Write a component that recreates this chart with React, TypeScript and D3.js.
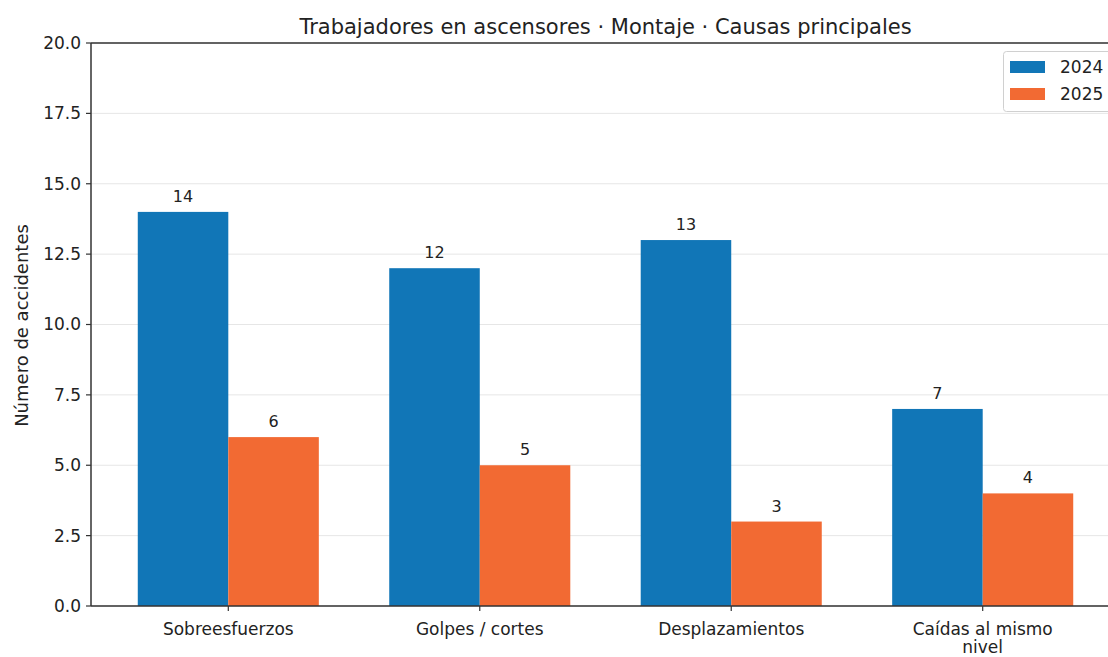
import React from "react";
import * as d3 from "d3";

const categories: string[][] = [
  ["Sobreesfuerzos"],
  ["Golpes / cortes"],
  ["Desplazamientos"],
  ["Caídas al mismo", "nivel"],
];
const values2024: number[] = [14, 12, 13, 7];
const values2025: number[] = [6, 5, 3, 4];
const seriesNames: string[] = ["2024", "2025"];
const yTicks: number[] = [0, 2.5, 5, 7.5, 10, 12.5, 15, 17.5, 20];
const title = "Trabajadores en ascensores · Montaje · Causas principales";
const yLabel = "Número de accidentes";

const W = 1108;
const H = 657;
const colors = ["#1176b7", "#f26a33"];
const font = "'DejaVu Sans', sans-serif";

export default function App() {
  const left = 91;
  const right = 1120;
  const top = 43;
  const bottom = 606;
  const barW = 0.36;
  const x = d3.scaleLinear().domain([-0.546, 3.546]).range([left, right]);
  const y = d3.scaleLinear().domain([0, 20]).range([bottom, top]);
  const series = [values2024, values2025];

  return (
    <svg
      width={W}
      height={H}
      style={{ position: "absolute", left: 0, top: 0, background: "#fff" }}
      fontFamily={font}
    >
      <rect x={0} y={0} width={W} height={H} fill="#fff" />
      {/* grid */}
      {yTicks.map((t) => (
        <line key={"g" + t} x1={left} x2={right} y1={y(t)} y2={y(t)} stroke="#e6e6e6" strokeWidth={1} />
      ))}
      {/* bars */}
      {series.map((vals, si) =>
        vals.map((v, i) => {
          const x0 = si === 0 ? x(i - barW) : x(i);
          const x1 = si === 0 ? x(i) : x(i + barW);
          return (
            <g key={`b${si}-${i}`}>
              <rect x={x0} y={y(v)} width={x1 - x0} height={y(0) - y(v)} fill={colors[si]} />
              <text
                x={(x0 + x1) / 2}
                y={y(v) - 10}
                textAnchor="middle"
                fontSize={16}
                fill="#222"
              >
                {v}
              </text>
            </g>
          );
        })
      )}
      {/* spines */}
      <line x1={left} x2={left} y1={top} y2={bottom} stroke="#333" strokeWidth={1.5} />
      <line x1={left} x2={right} y1={bottom} y2={bottom} stroke="#333" strokeWidth={1.5} />
      <line x1={left} x2={right} y1={top} y2={top} stroke="#333" strokeWidth={1.5} />
      {/* y ticks */}
      {yTicks.map((t) => (
        <g key={"t" + t}>
          <line x1={left - 5} x2={left} y1={y(t)} y2={y(t)} stroke="#333" strokeWidth={1.2} />
          <text x={left - 10} y={y(t)} dy="0.35em" textAnchor="end" fontSize={17} fill="#222">
            {t.toFixed(1)}
          </text>
        </g>
      ))}
      {/* x ticks */}
      {categories.map((lines, i) => (
        <g key={"x" + i}>
          <line x1={x(i)} x2={x(i)} y1={bottom} y2={bottom + 5} stroke="#333" strokeWidth={1.2} />
          {lines.map((ln, li) => (
            <text
              key={li}
              x={x(i)}
              y={bottom + 29 + li * 18}
              textAnchor="middle"
              fontSize={17}
              fill="#222"
            >
              {ln}
            </text>
          ))}
        </g>
      ))}
      {/* y label */}
      <text
        transform={`translate(28,${(top + bottom) / 2 + 1}) rotate(-90)`}
        textAnchor="middle"
        fontSize={18}
        fill="#222"
      >
        {yLabel}
      </text>
      {/* title */}
      <text x={(left + right) / 2} y={34} textAnchor="middle" fontSize={21} fill="#222">
        {title}
      </text>
      {/* legend */}
      <rect x={1003.5} y={51.5} width={120} height={60} rx={3} fill="#fff" stroke="#d0d0d0" strokeWidth={1} />
      {seriesNames.map((s, i) => (
        <g key={"l" + s}>
          <rect x={1010} y={61 + i * 27} width={35} height={12} fill={colors[i]} />
          <text x={1060} y={67 + i * 27} dy="0.35em" fontSize={17} fill="#222">
            {s}
          </text>
        </g>
      ))}
    </svg>
  );
}
